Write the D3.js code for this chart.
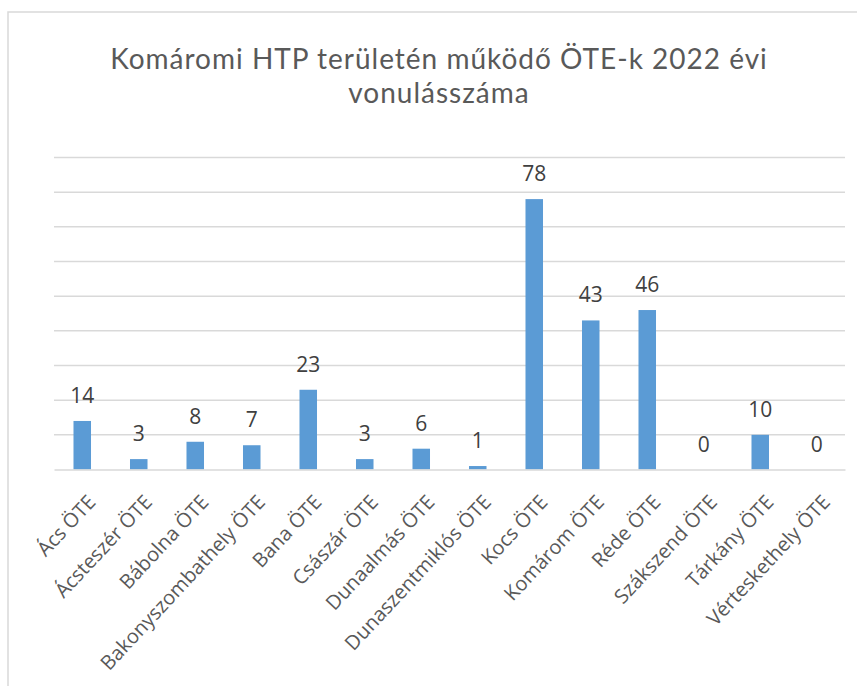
<!DOCTYPE html>
<html>
<head>
<meta charset="utf-8">
<script src="https://cdn.jsdelivr.net/npm/d3@7"></script>
<style>
  html, body { margin: 0; padding: 0; background: #fff; }
  svg { display: block; font-family: "Open Sans", "Liberation Sans", sans-serif; }
</style>
</head>
<body>
<svg id="chart" width="857" height="686"></svg>
<script>
// Chart data
const title_lines = ["Komáromi HTP területén működő ÖTE-k 2022 évi", "vonulásszáma"];
const categories = ["Ács ÖTE", "Ácsteszér ÖTE", "Bábolna ÖTE", "Bakonyszombathely ÖTE", "Bana ÖTE",
                    "Császár ÖTE", "Dunaalmás ÖTE", "Dunaszentmiklós ÖTE", "Kocs ÖTE", "Komárom ÖTE",
                    "Réde ÖTE", "Szákszend ÖTE", "Tárkány ÖTE", "Vérteskethely ÖTE"];
const values = [14, 3, 8, 7, 23, 3, 6, 1, 78, 43, 46, 0, 10, 0];
const y_ticks = [0, 10, 20, 30, 40, 50, 60, 70, 80, 90];

const svg = d3.select("#chart");

// outer chart frame (only top and left edges are visible in the crop)
svg.append("path")
    .attr("d", "M8,686 V12 H857")
    .attr("fill", "none")
    .attr("stroke", "#d9d9d9")
    .attr("stroke-width", 1.5);

// title, one text per line
svg.append("g")
    .selectAll("text")
    .data(title_lines)
    .join("text")
    .attr("x", 439)
    .attr("y", (d, i) => 68.5 + i * 34)
    .attr("text-anchor", "middle")
    .attr("fill", "#595959")
    .style("font-family", "Lato, \"Open Sans\", sans-serif")
    .style("font-size", "28px")
    .style("letter-spacing", "1px")
    .text(d => d);

const plot = { left: 54, right: 845, top: 157.5, bottom: 469.5 };

const x = d3.scaleBand()
    .domain(categories)
    .range([plot.left, plot.right])
    .paddingInner(0.69)
    .paddingOuter(0.345);

const y = d3.scaleLinear()
    .domain([0, 90])
    .range([plot.bottom, plot.top]);

// horizontal gridlines
svg.append("g")
    .selectAll("line")
    .data(y_ticks.slice(1))
    .join("line")
    .attr("x1", plot.left)
    .attr("x2", plot.right)
    .attr("y1", d => y(d))
    .attr("y2", d => y(d))
    .attr("stroke", "#d9d9d9")
    .attr("stroke-width", 1.5);

// bars
svg.append("g")
    .selectAll("rect")
    .data(values)
    .join("rect")
    .attr("x", (d, i) => x(categories[i]))
    .attr("y", d => y(d))
    .attr("width", x.bandwidth())
    .attr("height", d => y(0) - y(d))
    .attr("fill", "#5b9bd5");

// data labels
svg.append("g")
    .selectAll("text")
    .data(values)
    .join("text")
    .attr("x", (d, i) => x(categories[i]) + x.bandwidth() / 2)
    .attr("y", d => y(d) - 18)
    .attr("text-anchor", "middle")
    .attr("fill", "#404040")
    .style("font-size", "21px")
    .text(d => d);

// category axis, labels slanted
const x_axis = svg.append("g")
    .attr("transform", `translate(0, ${y(0)})`)
    .call(d3.axisBottom(x).tickSize(0).tickSizeOuter(0));

x_axis.select(".domain")
    .attr("stroke", "#d9d9d9")
    .attr("stroke-width", 1.5);

x_axis.selectAll(".tick text")
    .attr("x", 0)
    .attr("y", 0)
    .attr("dy", null)
    .attr("transform", "translate(14.5, 33.5) rotate(-47)")
    .attr("text-anchor", "end")
    .attr("fill", "#595959")
    .style("font-size", "20px")
    .style("font-family", "\"Open Sans\", sans-serif");
</script>
</body>
</html>
